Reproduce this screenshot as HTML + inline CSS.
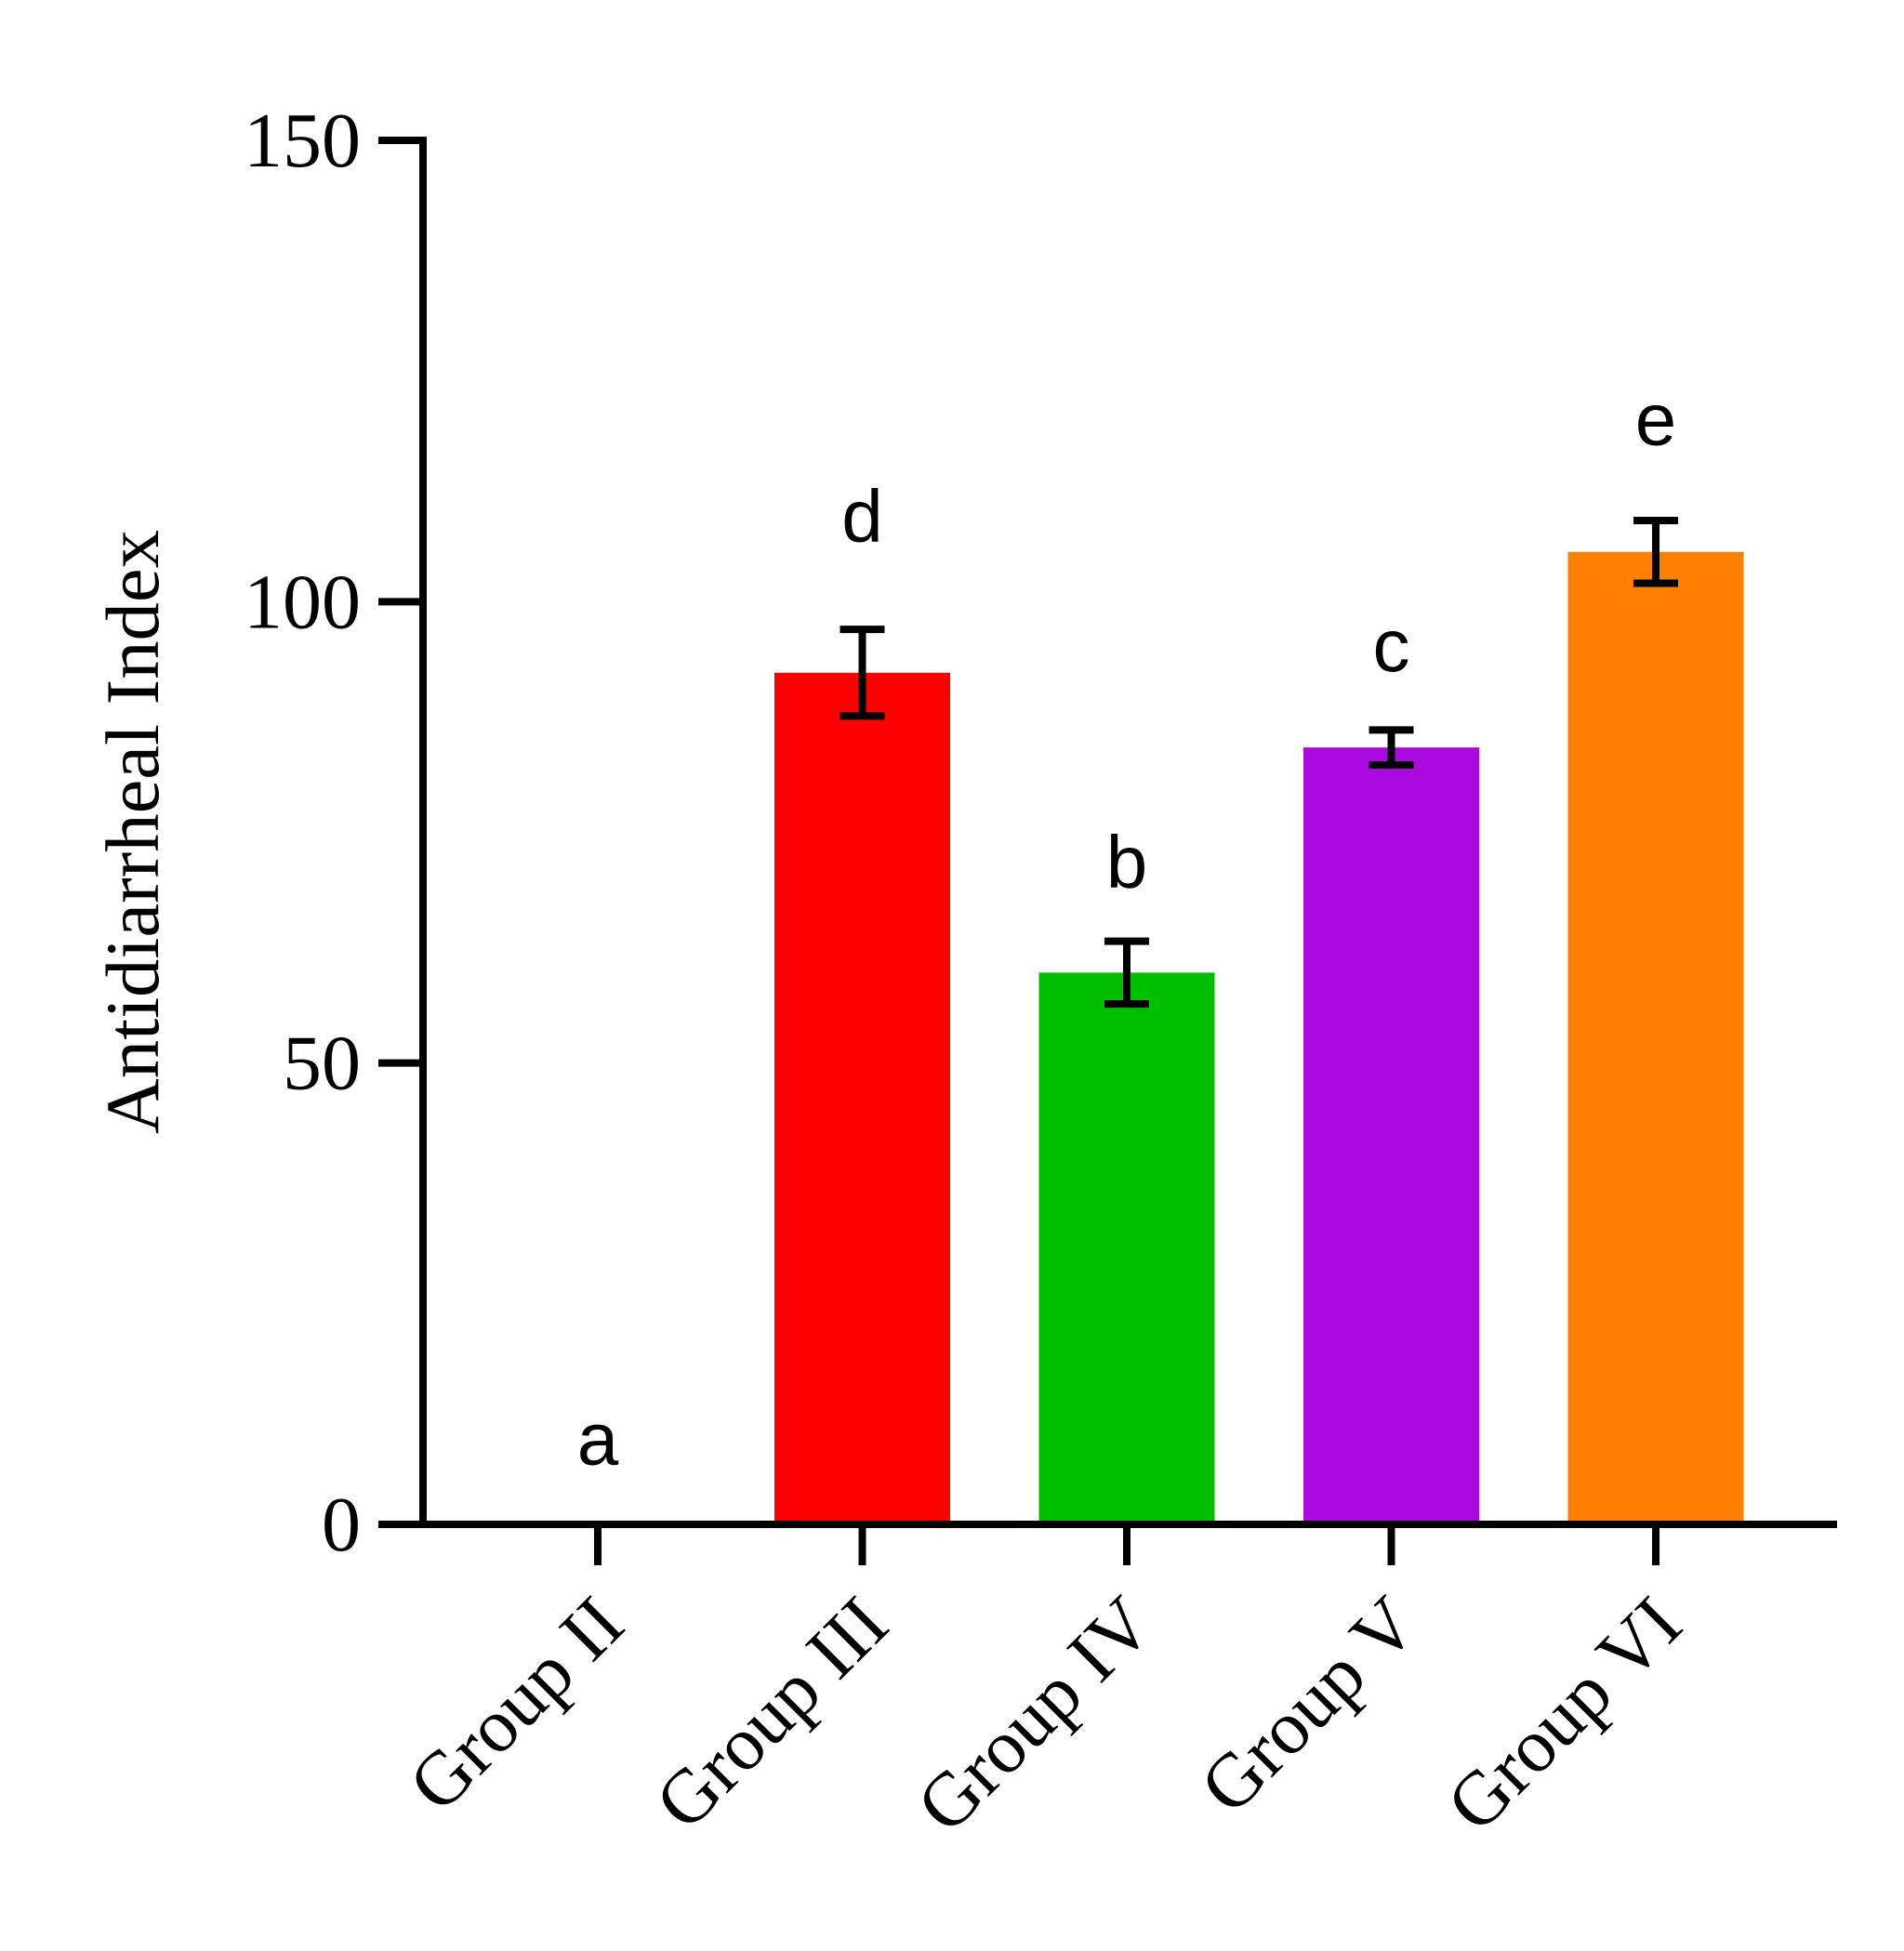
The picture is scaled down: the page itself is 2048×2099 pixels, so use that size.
<!DOCTYPE html>
<html><head><meta charset="utf-8"><style>html,body{margin:0;padding:0;background:#fff}svg{display:block}</style></head>
<body>
<svg id="chart" width="2048" height="2099" viewBox="0 0 2048 2099" xmlns="http://www.w3.org/2000/svg">
<g id="bars"></g>
<g id="errs"></g>
<g id="letters"></g>
<g id="axes"></g>
<text transform="translate(170,895) rotate(-90)" text-anchor="middle" font-family="Liberation Serif, serif" font-size="82" textLength="650" lengthAdjust="spacingAndGlyphs">Antidiarrheal Index</text>
</svg>
<script>
const categories = ["Group II","Group III","Group IV","Group V","Group VI"];
const values = [0, 92.3, 59.8, 84.2, 105.4];
const errors = [0, 4.7, 3.4, 1.9, 3.4];
const letters = ["a","d","b","c","e"];
const letterValues = [6.5, 106.5, 69, 92.5, 117];
const colors = ["#ffffff","#ff0000","#00bf00","#aa0ae0","#ff8000"];
const yTicks = [0, 50, 100, 150];

const NS = "http://www.w3.org/2000/svg";
const X0 = 455, XEND = 1976, Y0 = 1640, Y150 = 151;
const y = v => Y0 - (v / 150) * (Y0 - Y150);
const x = i => 643 + i * 284.5;
const BW = 189;
function mk(tag, attrs, parent){const e=document.createElementNS(NS,tag);for(const k in attrs)e.setAttribute(k,attrs[k]);parent.appendChild(e);return e;}
const gb=document.getElementById('bars'), ge=document.getElementById('errs'), gl=document.getElementById('letters'), ga=document.getElementById('axes');
categories.forEach((c,i)=>{
  if(values[i]>0){
    const r=mk('rect',{x:x(i)-BW/2,y:y(values[i]),width:BW,height:Y0-y(values[i]),fill:colors[i]},gb);
    
    
  }
  if(errors[i]>0){
    const g=mk('g',{stroke:'#000','stroke-width':8},ge);
    
    
    const t=y(values[i]+errors[i]), b=y(values[i]-errors[i]);
    mk('line',{x1:x(i),x2:x(i),y1:t,y2:b},g);
    mk('line',{x1:x(i)-24,x2:x(i)+24,y1:t,y2:t},g);
    mk('line',{x1:x(i)-24,x2:x(i)+24,y1:b,y2:b},g);
  }
  const l=mk('text',{x:x(i),y:y(letterValues[i]),'text-anchor':'middle','font-family':'Liberation Sans, sans-serif','font-size':80},gl);
  l.textContent=letters[i];
  
  
  const tk=mk('line',{x1:x(i),x2:x(i),y1:Y0,y2:Y0+44,stroke:'#000','stroke-width':8},ga);
  
  
  const lx=x(i)+32, ly=1752;
  const tl=mk('text',{x:lx,y:ly,'text-anchor':'end','font-family':'Liberation Serif, serif','font-size':82,transform:`rotate(-45 ${lx} ${ly})`},ga);
  tl.textContent=c;
  
  
});
yTicks.forEach(v=>{
  const t=mk('line',{x1:407,x2:X0,y1:y(v),y2:y(v),stroke:'#000','stroke-width':8},ga);
  
  
  const tl=mk('text',{x:388,y:y(v)+28,'text-anchor':'end','font-family':'Liberation Serif, serif','font-size':84},ga);
  tl.textContent=v;
  
  
});
const ya=mk('line',{x1:X0,x2:X0,y1:Y150-4,y2:Y0+4,stroke:'#000','stroke-width':8},ga);


const xa=mk('line',{x1:X0-4,x2:XEND,y1:Y0,y2:Y0,stroke:'#000','stroke-width':8},ga);


</script>
</body></html>
